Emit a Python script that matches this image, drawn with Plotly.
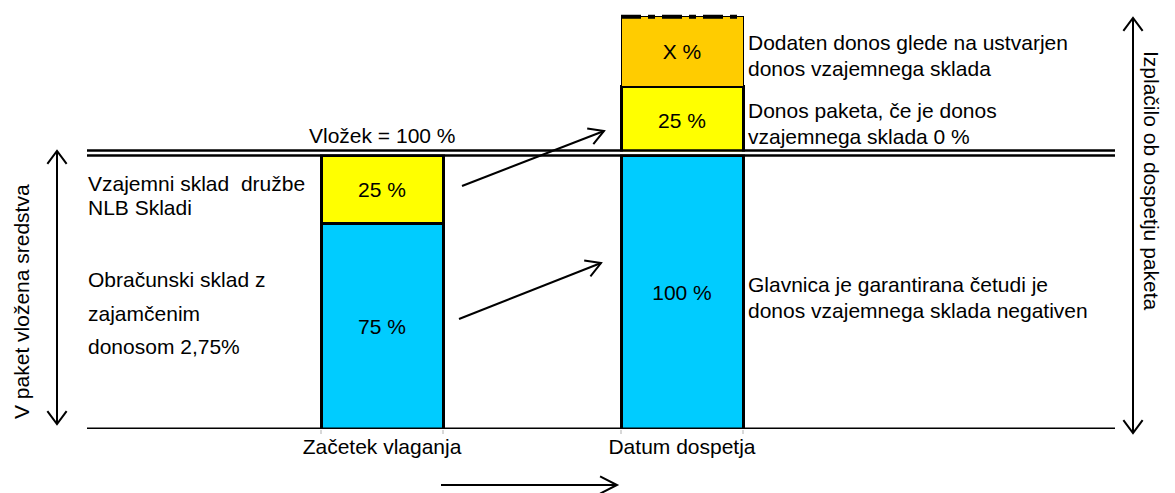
import math
import plotly.graph_objects as go

# ---------------- data ----------------
categories = ["Začetek vlaganja", "Datum dospetja"]
guaranteed = [75, 100]          # cyan part (obračunski sklad / glavnica)
fund = [25, 25]                 # yellow part (vzajemni sklad / donos paketa)
extra = [None, 25.5]            # orange part ("X %", illustrative height)
guaranteed_labels = ["75 %", "100 %"]
fund_labels = ["25 %", "25 %"]
extra_labels = ["", "X %"]

# ---------------- geometry helpers (layout only) ----------------
OFF = 8                      # page body margin of the html page
W, H = 1175 - OFF, 493 - OFF
BASE_PAGE = 429              # baseline position on the page
PLOT_H = BASE_PAGE - OFF     # plot area height in figure px
BOTTOM = H - PLOT_H
PX_PER_PCT = 2.74
Y_TOP = PLOT_H / PX_PER_PCT  # y-axis top value
CAT_PX = 300.0               # px per category
X0_PX = 382.0 - OFF          # figure px centre of first category
BAR_W = 122 / CAT_PX

FONT = "Liberation Sans, Arial, sans-serif"
FS = 21


def px(x):
    """page px -> paper x"""
    return (x - OFF) / W


def py(y):
    """page px -> paper y"""
    return (PLOT_H - (y - OFF)) / PLOT_H


fig = go.Figure()

common = dict(width=BAR_W, textposition="inside", insidetextanchor="middle",
              textangle=0, textfont=dict(family=FONT, size=FS, color="black"),
              cliponaxis=False, hoverinfo="skip")

fig.add_trace(go.Bar(x=categories, y=guaranteed, text=guaranteed_labels,
                     marker=dict(color="#00CCFF", line=dict(color="black", width=3)),
                     **common))
fig.add_trace(go.Bar(x=categories, y=fund, text=fund_labels,
                     marker=dict(color="#FFFF00", line=dict(color="black", width=3)),
                     **common))
fig.add_trace(go.Bar(x=categories, y=extra, text=extra_labels,
                     marker=dict(color="#FFCC00", line=dict(color="black", width=1)),
                     **common))

shapes = []


def line_px(x0, y0, x1, y1, w=2, dash="solid"):
    shapes.append(dict(type="line", xref="paper", yref="paper",
                       x0=px(x0), y0=py(y0), x1=px(x1), y1=py(y1),
                       line=dict(color="black", width=w, dash=dash), layer="above"))


def head(tx, ty, dx, dy, size=17, ang=30):
    n = math.hypot(dx, dy)
    ux, uy = dx / n, dy / n
    pts = []
    for s in (1, -1):
        a = math.radians(ang) * s
        rx = ux * math.cos(a) - uy * math.sin(a)
        ry = ux * math.sin(a) + uy * math.cos(a)
        pts.append((tx - size * rx, ty - size * ry))
    path = "M {} {} L {} {} L {} {}".format(px(pts[0][0]), py(pts[0][1]),
                                           px(tx), py(ty),
                                           px(pts[1][0]), py(pts[1][1]))
    shapes.append(dict(type="path", xref="paper", yref="paper", path=path,
                       line=dict(color="black", width=2), layer="above"))


def arrow(x0, y0, x1, y1, both=False, size=17, ang=30):
    line_px(x0, y0, x1, y1, w=2)
    head(x1, y1, x1 - x0, y1 - y0, size, ang)
    if both:
        head(x0, y0, x0 - x1, y0 - y1, size, ang)


# white gap + double line at 100 %
shapes.append(dict(type="rect", xref="paper", yref="paper",
                   x0=px(87), x1=px(1115), y0=py(151.5), y1=py(154.5),
                   fillcolor="white", line=dict(width=0), layer="above"))
line_px(87, 150.5, 1115, 150.5, w=2.5)
line_px(87, 155.5, 1115, 155.5, w=2.5)
# baseline
shapes.append(dict(type="line", xref="paper", yref="y", x0=px(87), x1=px(1115),
                   y0=0, y1=0, line=dict(color="black", width=3), layer="above"))
# faint tick marks under the bar edges
for i in range(len(categories)):
    for s in (-1, 1):
        xe = i + s * BAR_W / 2
        shapes.append(dict(type="line", xref="x", yref="paper", x0=xe, x1=xe,
                           y0=py(430), y1=py(434),
                           line=dict(color="#b0b0b0", width=1), layer="above"))
# dash-dot top of "X %" block
top_extra = guaranteed[1] + fund[1] + extra[1]
shapes.append(dict(type="line", xref="x", yref="y",
                   x0=1 - BAR_W / 2, x1=1 + BAR_W / 2, y0=top_extra, y1=top_extra,
                   line=dict(color="black", width=4, dash="20px,7px,7px,7px"),
                   layer="above"))

# arrows
arrow(57, 151, 57, 424, both=True, size=16, ang=37)
arrow(1133, 18, 1133, 433, both=True, size=16, ang=37)
arrow(462, 186, 604, 131)
arrow(459, 319, 601, 263)
arrow(441, 485, 617, 485, size=19, ang=27)

annotations = []


def text(t, x, y, anchor="left", angle=0, size=FS):
    annotations.append(dict(text=t, x=px(x), y=py(y), xref="paper", yref="paper",
                            xanchor=anchor, yanchor="middle", showarrow=False,
                            textangle=angle,
                            font=dict(family=FONT, size=size, color="black")))


text("Vložek = 100 %", 382, 135, anchor="center")
text("Vzajemni sklad  družbe", 86, 184)
text("NLB Skladi", 86, 207)
text("Obračunski sklad z", 86, 280)
text("zajamčenim", 86, 313)
text("donosom 2,75%", 86, 346)
text("Dodaten donos glede na ustvarjen", 746, 42)
text("donos vzajemnega sklada", 746, 68)
text("Donos paketa, če je donos", 746, 110)
text("vzajemnega sklada 0 %", 746, 136)
text("Glavnica je garantirana četudi je", 746, 284)
text("donos vzajemnega sklada negativen", 746, 310)
text("V paket vložena sredstva", 21, 302, anchor="center", angle=-90)
text("Izplačilo ob dospetju paketa", 1152, 180, anchor="center", angle=90)

fig.update_layout(
    width=W, height=H,
    margin=dict(l=0, r=0, t=0, b=BOTTOM, pad=0),
    barmode="stack", showlegend=False,
    paper_bgcolor="white", plot_bgcolor="white",
    font=dict(family=FONT, size=FS, color="black"),
    shapes=shapes, annotations=annotations,
    xaxis=dict(type="category", range=[-X0_PX / CAT_PX, (W - X0_PX) / CAT_PX],
               showgrid=False, zeroline=False, showline=False, ticks="",
               ticklabelstandoff=3,
               tickfont=dict(family=FONT, size=FS, color="black"),
               fixedrange=True),
    yaxis=dict(range=[0, Y_TOP], visible=False, showgrid=False, zeroline=False,
               fixedrange=True),
)

fig.write_html("out.html")
